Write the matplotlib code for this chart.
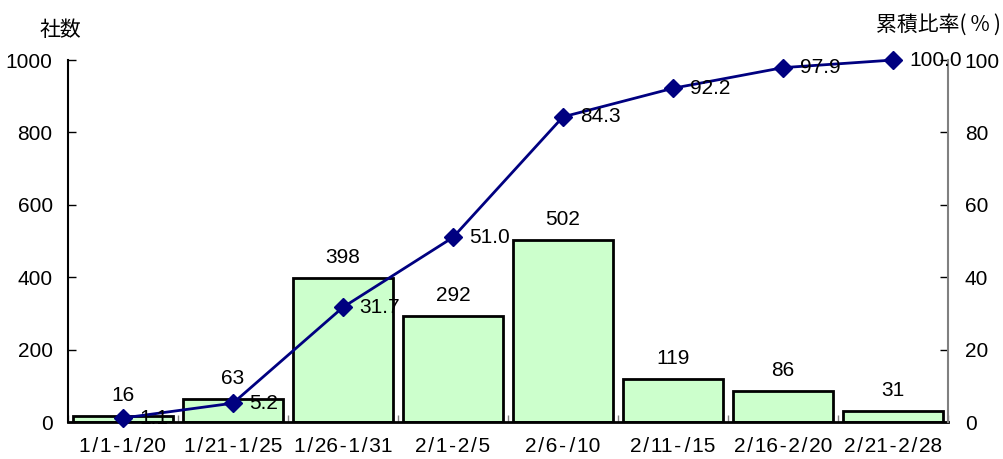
import numpy as np
import matplotlib
matplotlib.use('Agg')
import matplotlib.pyplot as plt
from matplotlib.ticker import FixedLocator, NullFormatter

plt.rcParams['font.family'] = ['Liberation Sans', 'Noto Sans CJK JP', 'DejaVu Sans']
plt.rcParams['font.size'] = 15

categories = ['1/1-1/20', '1/21-1/25', '1/26-1/31', '2/1-2/5', '2/6-/10',
              '2/11-/15', '2/16-2/20', '2/21-2/28']
counts = [16, 63, 398, 292, 502, 119, 86, 31]
cumulative = [1.1, 5.2, 31.7, 51.0, 84.3, 92.2, 97.9, 100.0]
left_ticks = [0, 200, 400, 600, 800, 1000]
right_ticks = [0, 20, 40, 60, 80, 100]


def spaced(label):
    # the original puts a little air around the slashes and dashes
    return label.replace('/', '\u200a/\u200a').replace('-', '\u200a-\u200a')


fig = plt.figure(figsize=(10.04, 4.59), dpi=100)
ax = fig.add_axes([0.0677, 0.0806, 0.8765, 0.7886])
ax2 = ax.twinx()

x = np.arange(len(categories))
ax.bar(x, counts, width=0.915, color='#CCFFCC', edgecolor='black', linewidth=2, zorder=2)
for xi, v in zip(x, counts):
    ax.annotate(str(v), (xi, v), xytext=(0, 8), textcoords='offset points',
                ha='center', va='bottom')

ax.set_xlim(-0.5, len(categories) - 0.5)
ax.set_ylim(0, 1000)
ax.set_yticks(left_ticks)
ax.tick_params(axis='y', direction='in', length=6, width=1, pad=11)

# category labels at centers, small inward ticks at boundaries
ax.xaxis.set_major_locator(FixedLocator(np.arange(len(categories) + 1) - 0.5))
ax.xaxis.set_major_formatter(NullFormatter())
ax.xaxis.set_minor_locator(FixedLocator(x))
ax.set_xticklabels([spaced(c) for c in categories], minor=True)
ax.tick_params(axis='x', which='major', direction='in', length=5, width=1, color='#808080')
ax.tick_params(axis='x', which='minor', length=0, pad=11)

ax.spines['top'].set_visible(False)
ax.spines['right'].set_visible(False)
ax.spines['bottom'].set_linewidth(2)
ax.spines['left'].set_linewidth(1.5)

ax2.plot(x, cumulative, color='#000080', linewidth=2, marker='D', markersize=9,
         zorder=3, clip_on=False)
for xi, v in zip(x, cumulative):
    ax2.annotate(f'{v:.1f}', (xi, v), xytext=(12, 0), textcoords='offset points',
                 ha='left', va='center')
ax2.set_ylim(0, 100)
ax2.set_yticks(right_ticks)
ax2.tick_params(axis='y', direction='in', length=6, width=1, pad=12)
for s in ['top', 'left', 'bottom']:
    ax2.spines[s].set_visible(False)
ax2.spines['right'].set_color('#808080')
ax2.spines['right'].set_linewidth(1.5)

fig.text(0.06, 0.935, '社数', ha='center', va='center', fontsize=15,
         family=['Noto Sans CJK JP', 'DejaVu Sans'])
fig.text(0.997, 0.945, '累積比率(\u2009%\u2009)', ha='right', va='center', fontsize=15,
         family=['Noto Sans CJK JP', 'DejaVu Sans'])

fig.savefig('out.png', dpi=100)
